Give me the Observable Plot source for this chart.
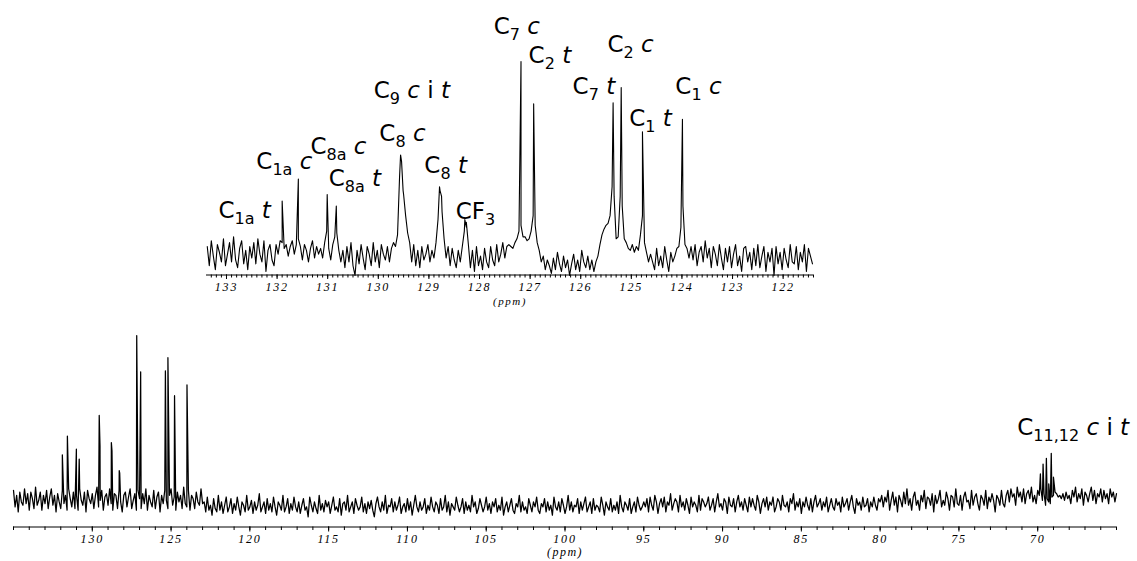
<!DOCTYPE html>
<html>
<head>
<meta charset="utf-8">
<script src="https://cdn.jsdelivr.net/npm/d3@7"></script>
<script src="https://cdn.jsdelivr.net/npm/@observablehq/plot@0.6"></script>
<style>
  html, body { margin: 0; padding: 0; background: #fff; }
  #chart { position: relative; width: 1137px; height: 561px; background: #fff; overflow: hidden; }
  #chart svg { position: absolute; left: 0; top: 0; }
  g[aria-label="x-axis tick label"] text { letter-spacing: 1.8px; }
</style>
</head>
<body>
<div id="chart"></div>
<script>
// ---------- DATA ----------
// peak tops (ppm, intensity in % of the tallest peak) shared by both spectra
const peakPpm    = [131.90, 131.58, 131.01, 130.83, 129.56, 129.51, 128.79, 128.75, 128.29, 128.26, 127.18, 126.93, 125.36, 125.20, 124.78, 123.99, 69.83, 69.66, 69.45, 69.30, 69.14, 69.00];
const peakHeight = [27.6,   39,     31,     25,     51.5,   33,     35,     30,     18,     16.5,   100,    78,     78.6,   86.5,   63.5,   70,     16,    22,    25.5,  10,    28.5,  14];

// baseline samples of the full spectrum, evenly spaced from 135 to 65 ppm
const mainNoiseStart = 135, mainNoiseEnd = 65;
const mainNoise = [
6,-4,3,-7,5,-1,-3,7,-2,4,-6,5,1,-5,8,-3,0,5,-6,3,
-2,6,-5,2,7,-3,3,-7,4,-1,-5,6,-2,3,-6,7,1,-4,5,-5,
3,-6,7,0,-3,5,-7,6,1,-2,4,-5,3,8,-4,0,6,-6,2,4,
-3,7,-2,-6,4,3,-5,6,-1,-7,3,5,-4,2,7,-5,0,4,-6,6,
1,-5,4,-2,7,-6,3,-1,-4,6,-5,2,5,-7,3,-2,6,0,-5,3,
7,-3,2,-6,5,-1,3,-5,8,-2,-4,6,-6,3,1,-5,5,-1,-3,7,
-2,
-1,-7,2,-6,-3,-9,1,-5,-7,3,-6,-1,-8,-3,2,-7,-4,1,-8,-2,
-6,2,-4,-9,-1,-3,-7,3,-6,-4,0,-8,-1,-6,-3,4,-7,-4,-1,-8,
1,-6,-2,-7,2,-4,-9,-1,-3,-6,3,-7,-4,1,-8,-2,-6,2,-4,-7,
-1,-8,-3,1,-6,-4,-10,2,-3,-7,-1,-5,-8,3,-6,-2,-7,0,-4,-1,
-8,-3,2,-6,-4,-7,1,-9,-2,-1,-6,3,-7,-4,-1,-8,1,-3,-6,-4,
2,-7,-2,-8,-1,-5,0,-6,-10,-2,2,-4,-7,-1,-6,3,-8,-3,-4,1,
-7,-1,-6,-3,2,-8,-4,-2,-7,1,-6,-1,-9,-3,3,-4,-7,-1,-6,-4,
1,-8,-3,-6,2,-4,-7,-1,-3,-8,1,-6,-4,3,-7,-1,-9,-2,-4,-6,
2,-3,-7,-4,1,-8,-1,-6,-3,-7,3,-4,-1,-8,-5,1,-3,-7,-4,2,
-6,-2,-8,-1,-4,1,-7,-3,-6,2,-9,-4,-1,-7,-3,1,-6,-8,-2,-4,
3,-7,-1,-6,-4,-8,1,-3,-7,-1,-4,2,-6,-8,-2,-4,1,-7,-1,-6,
-3,-9,2,-4,-6,-1,-7,1,-3,-8,-4,3,-6,-1,-7,-3,-4,1,-8,-1,
-6,-2,2,-7,-4,-1,-8,1,-6,-3,-4,-7,2,-3,-9,-1,-4,-6,1,-7,
-3,-6,-1,-8,3,-4,-7,-1,-3,-6,1,-8,-4,-1,-7,2,-3,-6,-4,-1,
-4,1,-7,2,-3,-6,3,-1,-8,-2,1,-4,2,-7,-1,-3,4,-6,-2,1,
-1,-7,3,-4,-1,-6,1,-3,-8,2,-4,-1,-3,-7,3,-6,1,-1,-4,-2,
2,-6,-3,1,-7,-1,4,-4,-2,-6,1,-1,-8,2,-3,-4,1,-7,-1,3,
-4,-1,-6,1,-3,-7,2,-4,1,-3,-6,3,-1,-8,-2,1,-4,2,-6,-1,
-3,2,-7,-4,1,-1,-6,3,-3,-4,-1,-7,1,-2,4,-6,-1,-4,1,-8,
-1,-4,2,-3,-6,1,-7,-1,3,-4,-2,1,-6,-1,-4,2,-7,-3,1,-4,
-6,1,-3,-1,-7,2,-4,-2,1,-6,-1,3,-4,-8,1,-3,-1,-6,2,-4,
-3,1,-7,-1,-4,2,-3,-6,1,-1,
3,-4,2,-1,6,-6,0,5,-3,2,-7,3,0,-4,5,-2,7,-3,1,-6,
2,5,-3,0,-6,3,-1,6,-5,2,1,-3,4,-7,3,-2,1,6,-4,0,
-3,5,1,-6,3,2,-4,7,-2,-3,3,-6,2,5,-1,0,-5,6,-3,2,
4,-2,-6,3,1,-3,6,-5,2,-1,4,0,-7,3,1,-3,6,-2,-4,3,
6,-1,7,2,4,-3,8,2,5,-1,7,-2,4,6,1,8,-1,3,-2,6,
3,7,0,4,-3,1,-1,-2,2,3,5,4,2,3,1,4,0,5,1,3,
-2,6,2,8,-1,4,1,7,-3,5,3,-1,4,8,0,6,-2,4,2,7,
-1,6,1,4,-2,7,2,5,-1,4
];

// baseline samples of the expanded region, evenly spaced from 133.38 to 121.42 ppm
const insetNoiseStart = 133.38, insetNoiseEnd = 121.42;
const insetNoise = [
4,-6,7,-1,-8,5,1,-4,8,-6,
0,6,-4,9,-3,-7,3,7,-5,2,
-8,4,-2,6,-5,8,0,-4,7,-9,
2,5,-3,-6,5,0,7,6,3,5,
-1,4,7,0,5,8,4,-3,5,2,
-4,3,7,-2,4,0,3,-2,6,12,
3,-3,5,9,11,2,-4,2,-7,4,
-4,6,-6,-11,2,-5,5,-2,-8,4,
0,-6,6,-4,2,-7,5,0,-3,4,
-4,3,6,4,10,40,48,31,20,11,
6,-4,5,-6,2,-7,4,-3,0,5,
-4,2,-2,6,18,33,22,8,-2,4,
-6,3,-3,-7,2,-4,4,12,14,5,
-7,2,-9,4,-6,-1,-8,3,-4,-7,
4,-3,-6,5,-4,0,6,-2,4,5,
4,3,6,8,12,15,9,9,7,8,
12,20,15,6,2,-4,-1,-8,-3,-6,
-10,-2,-8,1,-5,-9,-1,-7,-3,-11,
-5,0,-8,-3,-9,2,-4,-7,-1,-8,
-3,-9,-4,-1,5,10,13,15,16,20,
35,30,8,9,30,25,8,6,3,2,
5,1,4,2,10,20,6,1,-4,0,
-4,-8,3,-6,-1,-7,4,-3,-9,1,
-4,-1,3,4,14,25,5,3,-2,4,
-3,5,-6,1,4,-4,7,-2,3,-7,
4,0,-6,5,-2,-8,3,-4,4,-7,
0,5,-6,-1,-9,3,4,-4,1,-8,
3,-6,5,-7,-1,4,-9,1,-4,3,
-11,4,-5,1,-8,3,-3,-7,5,-4,
-5,4,-8,1,-4,5,-9,3,-1,-5
];

// peak assignments of the expanded region
const insetLabelBase = ["C","C","C","C","C","C","C","CF","C","C","C","C","C","C"];
const insetLabelSub  = ["1a","1a","8a","8a","9","8","8","3","7","2","7","2","1","1"];
const insetLabelTail = ["t","c","c","t","c i t","c","t","","c","t","t","c","t","c"];
const insetLabelPpm  = [133.16,132.41,131.34,130.98,130.09,129.98,129.09,128.47,127.72,127.03,126.16,125.47,125.04,124.13];
const insetLabelY    = [18.7,44.3,52,35.4,81.3,58.9,42.2,18.2,114.4,99,83.3,104.7,66.7,83.3];

// peak assignment of the full spectrum
const mainLabelBase = ["C"];
const mainLabelSub  = ["11,12"];
const mainLabelTail = ["c i t"];
const mainLabelPpm  = [71.30];
const mainLabelY    = [39.4];

// axis ticks
const mainMajorTicks = [130,125,120,115,110,105,100,95,90,85,80,75,70];
const mainMinorTicks = d3.range(65, 136);
const insetMajorTicks = [133,132,131,130,129,128,127,126,125,124,123,122];
const insetMinorTicks = d3.range(1214, 1334).map(d => d / 10);
const unitLabel = ["(ppm)"];

// ---------- BUILD ----------
function series(noise, start, end, ppmFilter) {
  const pts = noise.map((v, i) => ({ppm: start + (end - start) * i / (noise.length - 1), v}));
  peakPpm.forEach((p, i) => { if (ppmFilter(p)) pts.push({ppm: p, v: peakHeight[i]}); });
  return pts.sort((a, b) => b.ppm - a.ppm);
}
const insetDomain = [133.395, 121.40];
const mainData = series(mainNoise, mainNoiseStart, mainNoiseEnd, () => true);
const insetData = series(insetNoise, insetNoiseStart, insetNoiseEnd, p => p <= insetDomain[0] && p >= insetDomain[1]);

const labelFont = "DejaVu Sans";
const axisFont = "Liberation Serif";
const labelSize = 23;

function richLabels(svg, base, sub, tail) {
  const ns = "http://www.w3.org/2000/svg";
  const texts = Array.from(svg.querySelectorAll("text"))
    .filter(t => t.closest('[font-size="' + labelSize + '"]'));
  texts.forEach((t, i) => {
    t.textContent = "";
    t.style.whiteSpace = "pre";
    const add = (txt, attrs) => {
      const s = document.createElementNS(ns, "tspan");
      s.textContent = txt;
      for (const k in attrs) s.setAttribute(k, attrs[k]);
      t.appendChild(s);
      return s;
    };
    add(base[i], {});
    add(sub[i], {"font-size": 16, dy: 6});
    if (tail[i]) {
      tail[i].split(" ").forEach((w, j) => {
        add(" ", j === 0 ? {dy: -6} : {});
        add(w, (w === "c" || w === "t") ? {"font-style": "italic"} : {});
      });
    }
  });
  svg.querySelectorAll("text").forEach(t => {
    if (t.textContent === unitLabel[0]) t.style.letterSpacing = "1.5px";
  });
}

const W = 1137, H = 561;

// full spectrum
const mainYMin = -16.2;
const mainPlot = Plot.plot({
  width: W, height: H,
  marginLeft: 13, marginRight: 21, marginTop: 0, marginBottom: 34.5,
  x: {domain: [135, 65]},
  y: {domain: [mainYMin, 100], range: [526.5, 335], axis: null},
  style: {background: "transparent", overflow: "visible"},
  marks: [
    Plot.ruleY([mainYMin], {stroke: "#000", strokeWidth: 1}),
    Plot.axisX({ticks: mainMinorTicks, tickSize: 3.5, tickFormat: () => "", label: null}),
    Plot.axisX({ticks: mainMajorTicks, tickSize: 5, tickPadding: 2, label: null,
      fontFamily: axisFont, fontStyle: "italic", fontSize: 12}),
    Plot.line(mainData, {x: "ppm", y: "v", stroke: "#000", strokeWidth: 1.25}),
    Plot.text(unitLabel, {frameAnchor: "bottom", dy: 29, fontFamily: axisFont, fontStyle: "italic", fontSize: 12}),
    Plot.text(mainLabelBase, {x: mainLabelPpm, y: mainLabelY, text: d => d, textAnchor: "start", lineAnchor: "bottom",
      fontFamily: labelFont, fontSize: labelSize})
  ]
});
richLabels(mainPlot, mainLabelBase, mainLabelSub, mainLabelTail);

// expanded region
const insetYMin = -10.8;
const insetPlot = Plot.plot({
  width: W, height: H,
  marginLeft: 206, marginRight: 324, marginTop: 0, marginBottom: 286.5,
  x: {domain: insetDomain},
  y: {domain: [insetYMin, 100], range: [274.5, 61], axis: null},
  style: {background: "transparent", overflow: "visible"},
  marks: [
    Plot.ruleY([insetYMin], {stroke: "#000", strokeWidth: 1}),
    Plot.axisX({ticks: insetMinorTicks, tickSize: 3, tickFormat: () => "", label: null}),
    Plot.axisX({ticks: insetMajorTicks, tickSize: 4.5, tickPadding: 3, label: null,
      fontFamily: axisFont, fontStyle: "italic", fontSize: 12}),
    Plot.line(insetData, {x: "ppm", y: "v", stroke: "#000", strokeWidth: 1.1}),
    Plot.text(unitLabel, {frameAnchor: "bottom", dy: 30, fontFamily: axisFont, fontStyle: "italic", fontSize: 11}),
    Plot.text(insetLabelBase, {x: insetLabelPpm, y: insetLabelY, text: d => d, textAnchor: "start", lineAnchor: "bottom",
      fontFamily: labelFont, fontSize: labelSize})
  ]
});
richLabels(insetPlot, insetLabelBase, insetLabelSub, insetLabelTail);

const chart = document.getElementById("chart");
chart.appendChild(mainPlot);
chart.appendChild(insetPlot);
</script>
</body>
</html>
